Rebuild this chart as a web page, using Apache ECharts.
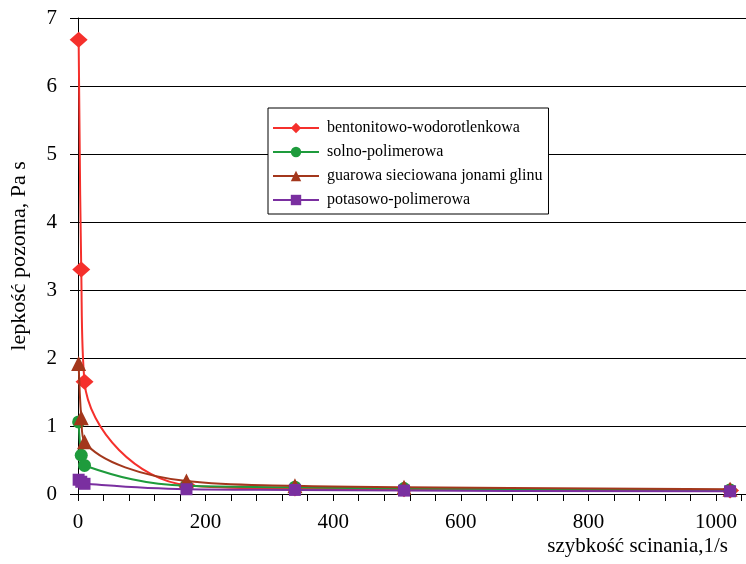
<!DOCTYPE html>
<html>
<head>
<meta charset="utf-8">
<script src="https://cdn.jsdelivr.net/npm/echarts@6/dist/echarts.min.js"></script>
<style>
html,body{margin:0;padding:0;background:#fff;}
#chart{width:746px;height:564px;}
</style>
</head>
<body>
<div id="chart"></div>
<script>
var shearRates = [1, 5.1, 10.2, 170, 340, 511, 1022];
var bentonitowo = [6.68, 3.3, 1.65, 0.13, 0.08, 0.07, 0.05];
var solno = [1.06, 0.57, 0.42, 0.12, 0.1, 0.08, 0.06];
var guarowa = [1.92, 1.12, 0.77, 0.19, 0.12, 0.1, 0.07];
var potasowo = [0.21, 0.18, 0.15, 0.07, 0.06, 0.05, 0.04];
var seriesNames = ['bentonitowo-wodorotlenkowa', 'solno-polimerowa', 'guarowa sieciowana jonami glinu', 'potasowo-polimerowa'];
var yTicks = [0, 1, 2, 3, 4, 5, 6, 7];
var xLabelValues = [0, 200, 400, 600, 800, 1000];

function pairs(ys) {
  return shearRates.map(function (x, i) { return [x, ys[i]]; });
}

var font = 'Liberation Serif';
var chart = echarts.init(document.getElementById('chart'));
var defs = [
  {data: bentonitowo, color: '#f5302c', symbol: 'diamond', size: [18, 16], z: 2},
  {data: solno, color: '#1e9b3c', symbol: 'circle', size: 13, z: 3},
  {data: guarowa, color: '#a3371c', symbol: 'triangle', size: 15, z: 4},
  {data: potasowo, color: '#7a2fa0', symbol: 'rect', size: 12, z: 5}
];
var series = defs.map(function (d, i) {
  return {
    name: seriesNames[i],
    type: 'line',
    data: pairs(d.data),
    smooth: 0.4,
    symbol: d.symbol,
    symbolSize: d.size,
    showAllSymbol: true,
    lineStyle: {color: d.color, width: 2},
    itemStyle: {color: d.color},
    z: d.z
  };
});

chart.setOption({
  animation: false,
  backgroundColor: '#ffffff',
  grid: {left: 77, right: 0, top: 18, bottom: 70},
  legend: {
    orient: 'vertical',
    left: 268,
    top: 108,
    padding: [11, 6, 5, 4],
    itemGap: 6,
    itemWidth: 46,
    itemHeight: 13,
    borderColor: '#000',
    borderWidth: 1,
    backgroundColor: '#fff',
    textStyle: {fontFamily: font, fontSize: 16, color: '#000', lineHeight: 18, padding: [0, 0, 0, 3]},
    data: seriesNames
  },
  xAxis: {
    type: 'value',
    min: 0,
    max: 1047,
    interval: 40,
    name: 'szybkość scinania,1/s',
    nameLocation: 'end',
    nameGap: -18,
    nameTextStyle: {fontFamily: font, fontSize: 21, color: '#000', align: 'right', verticalAlign: 'top', padding: [42, 0, 0, 0]},
    axisLine: {show: true, lineStyle: {color: '#000', width: 1}},
    axisTick: {show: true, inside: false, length: 7, lineStyle: {color: '#000'}},
    splitLine: {show: false},
    axisLabel: {
      fontFamily: font, fontSize: 21, color: '#000', margin: 18,
      showMaxLabel: false,
      formatter: function (v) { return xLabelValues.indexOf(v) >= 0 ? String(v) : ''; }
    }
  },
  yAxis: {
    type: 'value',
    min: yTicks[0],
    max: yTicks[yTicks.length - 1],
    interval: 1,
    name: 'lepkość pozoma, Pa s',
    nameLocation: 'middle',
    nameGap: 48,
    nameTextStyle: {fontFamily: font, fontSize: 22, color: '#000'},
    axisLine: {show: true, lineStyle: {color: '#000', width: 1}},
    axisTick: {show: true, inside: false, length: 8, lineStyle: {color: '#000'}},
    splitLine: {show: true, lineStyle: {color: '#000', width: 1}},
    axisLabel: {fontFamily: font, fontSize: 21, color: '#000', margin: 21}
  },
  series: series
});
</script>
</body>
</html>
